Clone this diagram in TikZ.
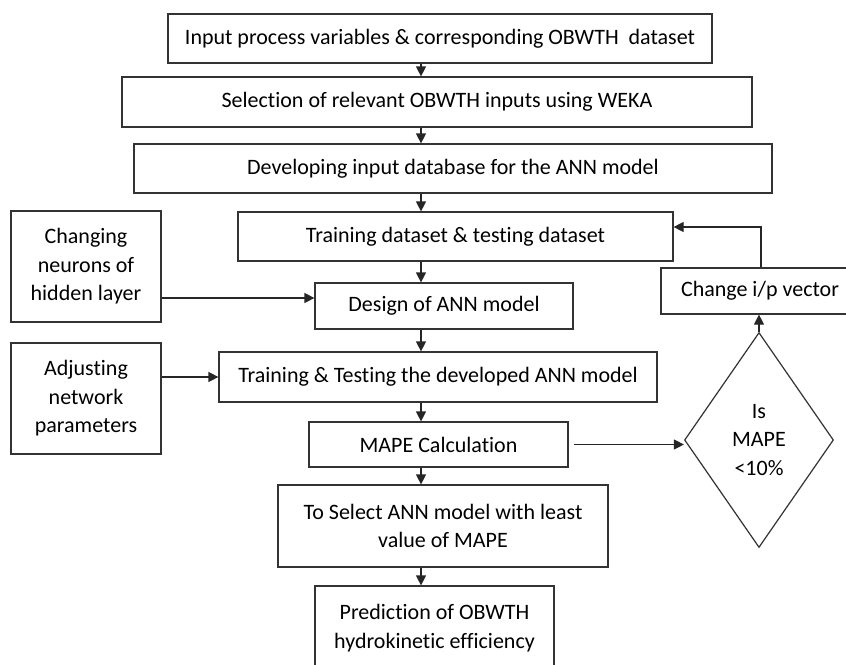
\documentclass[tikz,border=0pt]{standalone}
\usepackage{fontspec}
\setmainfont{Carlito}[Ligatures=NoCommon]
\usepackage{tikz}
\usetikzlibrary{arrows.meta,shapes.geometric}

\tikzset{
  box/.style={draw=black!80,line width=1.2pt,rectangle,inner sep=2pt,align=center,
    font=\fontsize{22}{28.5}\selectfont,text=black},
  dia/.style={box,diamond,aspect=0.7,inner sep=0pt},
  arr/.style={draw=black!85,line width=1.2pt,-{Triangle[width=10pt,length=10pt]}}
}

\begin{document}
\begin{tikzpicture}[x=1pt,y=-1pt]
	  \clip (0,0) rectangle (846,664);
	  \fill[white] (0,0) rectangle (846,664);
	  % main column
	  \node[box,minimum width=544pt,minimum height=49pt] (inp) at (440,38.5) {Input process variables \& corresponding OBWTH\ \ dataset};
	  \node[box,minimum width=630pt,minimum height=50pt] (sel) at (437,102) {Selection of relevant OBWTH inputs using WEKA};
	  \node[box,minimum width=638pt,minimum height=49pt] (dev) at (453,168.5) {Developing input database for the ANN model};
	  \node[box,minimum width=435pt,minimum height=49pt] (trn) at (455.5,236.5) {Training dataset \& testing dataset};
	  \node[box,minimum width=258pt,minimum height=46pt] (des) at (444,306) {Design of ANN model};
	  \node[box,minimum width=438pt,minimum height=50pt] (tt) at (438,377) {Training \& Testing the developed ANN model};
	  \node[box,minimum width=259pt,minimum height=45pt] (mape) at (438.5,444.5) {MAPE Calculation};
	  \node[box,minimum width=330pt,minimum height=82pt] (best) at (443,526) {To Select ANN model with least\\value of MAPE};
	  \node[box,minimum width=239pt,minimum height=84pt] (pred) at (434.5,628) {Prediction of OBWTH\\hydrokinetic efficiency};
	  % side boxes
	  \node[box,minimum width=150pt,minimum height=111pt] (neu) at (86,266.5) {Changing\\neurons of\\hidden layer};
	  \node[box,minimum width=150pt,minimum height=111pt] (adj) at (86,398.5) {Adjusting\\network\\parameters};
	  \node[box,minimum width=192pt,minimum height=46pt] (vec) at (757,291) {\hspace{6pt}Change i/p vector};
	  \node[dia,minimum width=149pt,minimum height=215pt] (dec) at (759,440) {Is\\MAPE\\<10\%};
	  % arrows
	  \coordinate (col) at (421,0);
	  \draw[arr] (inp.south -| col) -- (sel.north -| col);
	  \draw[arr] (sel.south -| col) -- (dev.north -| col);
	  \draw[arr] (dev.south -| col) -- (trn.north -| col);
	  \draw[arr] (trn.south -| col) -- (des.north -| col);
	  \draw[arr] (des.south -| col) -- (tt.north -| col);
	  \draw[arr] (tt.south -| col) -- (mape.north -| col);
	  \draw[arr] (mape.south -| col) -- (best.north -| col);
	  \draw[arr] (best.south -| col) -- (pred.north -| col);
	  \coordinate (dl) at ([yshift=8pt]des.west);
	  \draw[arr] (dl -| neu.east) -- (dl);
	  \draw[arr] (adj.east |- tt.west) -- (tt.west);
	  \draw[arr,shorten <=5pt] (mape.east) -- (mape.east -| dec.west);
	  \draw[arr] (dec.north) -- (dec.north |- vec.south);
	  \coordinate (up) at (761,227);
	  \draw[arr] (vec.north -| up) -- (up) -- (up -| trn.east);
	\end{tikzpicture}
\end{document}
